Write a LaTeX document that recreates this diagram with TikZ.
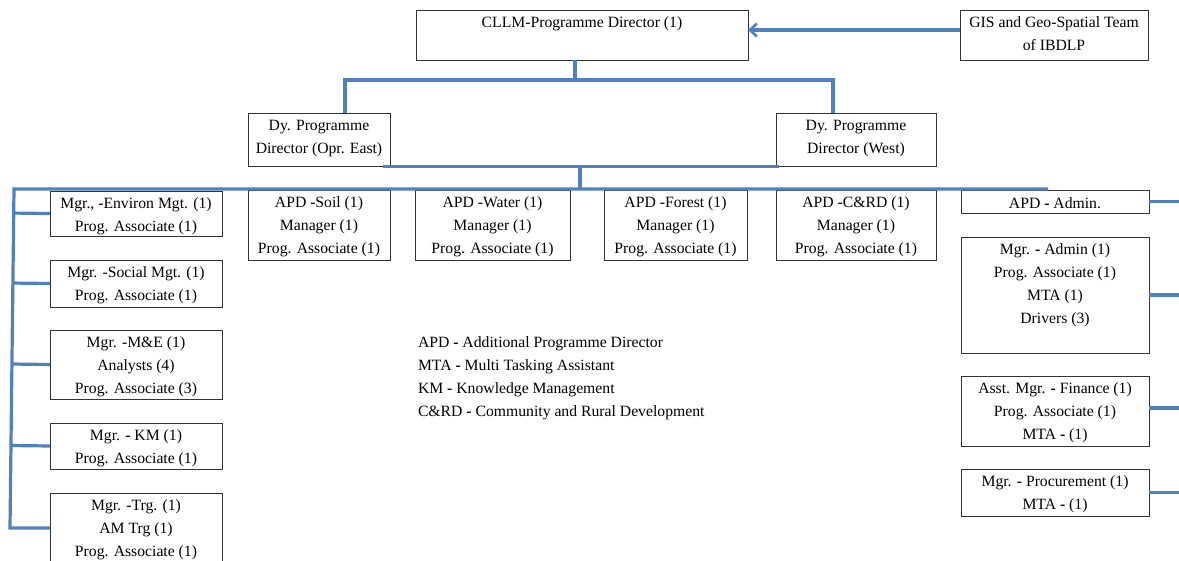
\documentclass[tikz,border=0pt]{standalone}
\usepackage{fontspec}
\setmainfont{Liberation Serif}
\usetikzlibrary{arrows.meta,calc}
\definecolor{conblue}{RGB}{79,129,189}
\newcommand\orgfs{\fontsize{15.7}{23}\selectfont}
\tikzset{
  box/.style={draw=black!80, line width=0.8pt, inner sep=0pt, outer sep=0pt, anchor=north west},
  txt/.style={font=\orgfs, align=center, inner sep=0pt, outer sep=0pt, anchor=north, yshift=-7pt},
  lgd/.style={font=\orgfs, align=left, inner sep=0pt, outer sep=0pt, anchor=north west, yshift=-7pt},
  conn/.style={draw=conblue, line width=3.2pt},
}
\begin{document}
\begin{tikzpicture}[x=1pt,y=-1pt]
\useasboundingbox (0,0) rectangle (1179,561);
\clip (0,0) rectangle (1179,561);
% top level
\node[box, minimum width=332pt, minimum height=50pt] (cllm) at (416,10) {};
\node[txt] at (cllm.north) {CLLM-Programme Director (1)};
\node[box, minimum width=188pt, minimum height=50pt] (gis) at (960,10) {};
\node[txt] at (gis.north) {GIS and Geo-Spatial Team\\of IBDLP};
\node[box, minimum width=142pt, minimum height=53pt] (dyE) at (248,113) {};
\node[txt] at (dyE.north) {Dy. Programme\\Director (Opr. East)};
\node[box, minimum width=160pt, minimum height=53pt] (dyW) at (776,113) {};
\node[txt] at (dyW.north) {Dy. Programme\\Director (West)};
% left column
\node[box, minimum width=172pt, minimum height=45pt] (env) at (50,191) {};
\node[txt] at (env.north) {Mgr., -Environ Mgt. (1)\\Prog. Associate (1)};
\node[box, minimum width=172pt, minimum height=47pt] (soc) at (50,260) {};
\node[txt] at (soc.north) {Mgr. -Social Mgt. (1)\\Prog. Associate (1)};
\node[box, minimum width=172pt, minimum height=69pt] (me) at (50,330) {};
\node[txt] at (me.north) {Mgr. -M\&E (1)\\Analysts (4)\\Prog. Associate (3)};
\node[box, minimum width=172pt, minimum height=46pt] (km) at (50,423) {};
\node[txt] at (km.north) {Mgr. \textbf{-} KM (1)\\Prog. Associate (1)};
\node[box, minimum width=172pt, minimum height=70pt] (trg) at (50,493) {};
\node[txt] at (trg.north) {Mgr. -Trg. (1)\\AM Trg (1)\\Prog. Associate (1)};
% middle row
\node[box, minimum width=142pt, minimum height=70pt] (soil) at (248,190) {};
\node[txt] at (soil.north) {APD -Soil (1)\\Manager (1)\\Prog. Associate (1)};
\node[box, minimum width=155pt, minimum height=70pt] (water) at (415,190) {};
\node[txt] at (water.north) {APD -Water (1)\\Manager (1)\\Prog. Associate (1)};
\node[box, minimum width=143pt, minimum height=70pt] (forest) at (604,190) {};
\node[txt] at (forest.north) {APD -Forest (1)\\Manager (1)\\Prog. Associate (1)};
\node[box, minimum width=160pt, minimum height=70pt] (crd) at (776,190) {};
\node[txt] at (crd.north) {APD -C\&RD (1)\\Manager (1)\\Prog. Associate (1)};
% right column
\node[box, minimum width=188pt, minimum height=23pt] (adm) at (961,190) {};
\node[txt, yshift=-1pt] at (adm.north) {APD \textbf{-} Admin.};
\node[box, minimum width=188pt, minimum height=116pt] (madm) at (961,237) {};
\node[txt] at (madm.north) {Mgr. \textbf{-} Admin (1)\\Prog. Associate (1)\\MTA (1)\\Drivers (3)};
\node[box, minimum width=188pt, minimum height=70pt] (fin) at (961,376) {};
\node[txt] at (fin.north) {Asst. Mgr. \textbf{-} Finance (1)\\Prog. Associate (1)\\MTA \textbf{-} (1)};
\node[box, minimum width=188pt, minimum height=47pt] (proc) at (961,469) {};
\node[txt] at (proc.north) {Mgr. \textbf{-} Procurement (1)\\MTA \textbf{-} (1)};
% legend
\node[lgd] (legend) at (418,330) {APD \textbf{-} Additional Programme Director\\MTA \textbf{-} Multi Tasking Assistant\\KM \textbf{-} Knowledge Management\\C\&RD \textbf{-} Community and Rural Development};
% connectors
\coordinate (ga) at ([yshift=5pt]gis.west);
\draw[conn, -{Straight Barb[length=7pt,width=13pt,line width=2.6pt]}] (ga) -- (ga -| cllm.east);
\coordinate (j1) at (575,80);
\coordinate (e1) at (345,80);
\coordinate (w1) at (833,80);
\draw[conn] (cllm.south -| j1) -- (j1);
\draw[conn] (e1 |- dyE.north) |- (w1) -- (w1 |- dyW.north);
\draw[conn] ([xshift=-7pt,yshift=-0.5pt]dyE.south east) -- ([xshift=3pt,yshift=-0.5pt]dyW.south west);
\coordinate (j2) at (580,167);
\coordinate (j3) at (580,189);
\draw[conn] (j2) -- (j3);
\coordinate (lt) at (14,189);
\coordinate (lb) at (10,528);
\coordinate (br) at (1048,189);
\draw[conn, line join=miter] (br) -- (lt) -- (lb) -- (trg.west);
\draw[conn] (env.west) -- ($(lt)!(env.west)!(lb)$);
\draw[conn] (soc.west) -- ($(lt)!(soc.west)!(lb)$);
\draw[conn] (me.west) -- ($(lt)!(me.west)!(lb)$);
\draw[conn] (km.west) -- ($(lt)!(km.west)!(lb)$);
\coordinate (rx) at (1190,0);
\draw[conn] (adm.east) -- (adm.east -| rx);
\draw[conn] (madm.east) -- (madm.east -| rx);
\draw[conn] ([yshift=3pt]fin.east) -- ([yshift=3pt]fin.east -| rx);
\draw[conn] (proc.east) -- (proc.east -| rx);
\end{tikzpicture}
\end{document}
